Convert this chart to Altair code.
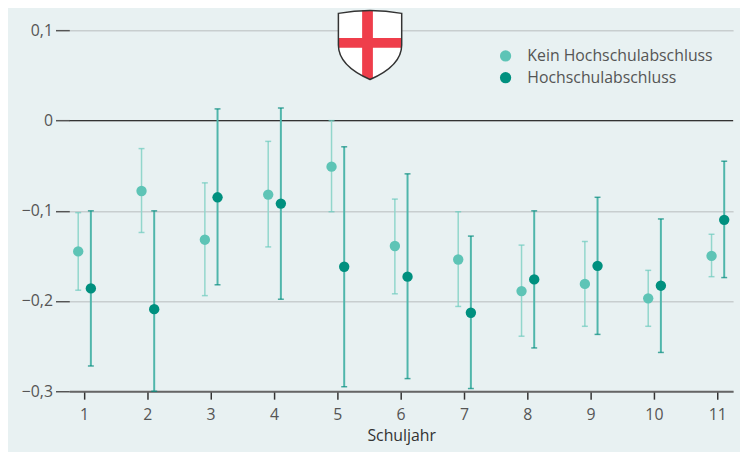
import altair as alt
import pandas as pd

jahre = [1, 2, 3, 4, 5, 6, 7, 8, 9, 10, 11]
gruppen = ["Kein Hochschulabschluss", "Hochschulabschluss"]

kein_wert = [-0.145, -0.078, -0.132, -0.082, -0.051, -0.139, -0.154, -0.189, -0.181, -0.197, -0.150]
kein_oben = [-0.102, -0.031, -0.069, -0.023, 0.000, -0.087, -0.101, -0.138, -0.134, -0.166, -0.126]
kein_unten = [-0.188, -0.124, -0.194, -0.140, -0.101, -0.192, -0.206, -0.239, -0.228, -0.228, -0.173]

hoch_wert = [-0.186, -0.209, -0.085, -0.092, -0.162, -0.173, -0.213, -0.176, -0.161, -0.183, -0.110]
hoch_oben = [-0.100, -0.100, 0.013, 0.014, -0.029, -0.059, -0.128, -0.100, -0.085, -0.109, -0.045]
hoch_unten = [-0.272, -0.300, -0.182, -0.198, -0.295, -0.286, -0.297, -0.252, -0.237, -0.257, -0.174]

y_ticks = [-0.3, -0.2, -0.1, 0, 0.1]

rows = []
for i, j in enumerate(jahre):
    rows.append({"jahr": j, "gruppe": gruppen[0], "wert": kein_wert[i], "oben": kein_oben[i], "unten": kein_unten[i]})
    rows.append({"jahr": j, "gruppe": gruppen[1], "wert": hoch_wert[i], "oben": hoch_oben[i], "unten": hoch_unten[i]})
df = pd.DataFrame(rows)

FONT = "Open Sans"
LIGHT = "#5ec4b6"
DARK = "#00907f"

xscale = alt.Scale(domain=[0.77, 11.25], nice=False, zero=False)
yscale = alt.Scale(domain=[-0.3, 0.12], nice=False, zero=False)

base = alt.Chart(df).transform_calculate(
    xpos=f"datum.jahr + (datum.gruppe == '{gruppen[0]}' ? -0.09 : 0.11)"
)

x_enc = alt.X(
    "xpos:Q", scale=xscale, title="Schuljahr",
    axis=alt.Axis(values=jahre, format="d", grid=False, tickSize=8, tickWidth=1.5,
                  tickColor="#333", domainColor="#666", domainWidth=2,
                  labelFontSize=16, labelColor="#555", labelPadding=8, labelFont=FONT,
                  titleFontSize=16, titleFontWeight="normal", titleColor="#333",
                  titleFont=FONT, titlePadding=5),
)
y_axis = alt.Axis(values=y_ticks, title=None, domain=False, tickSize=14, tickWidth=1.5,
                  tickColor="#555", labelFontSize=16, labelColor="#555", labelFont=FONT,
                  labelPadding=3, gridColor="#c8cecf", gridWidth=1.5,
                  labelExpr="datum.value == 0 ? '0' : replace(replace(format(datum.value, '.1f'), '.', ','), /[-\u2212]/, '\u2212')")

layers = []

zero = alt.Chart(pd.DataFrame({"z": [0]})).mark_rule(color="#333", strokeWidth=1.5).encode(
    y=alt.Y("z:Q", scale=yscale, axis=y_axis)
)
layers.append(zero)

styles = {
    gruppen[0]: ("#92d6cc", "#6ccabd", 1.5),
    gruppen[1]: ("#4fb6ab", "#00897b", 2),
}
for g in gruppen:
    line_c, cap_c, w = styles[g]
    sub = base.transform_filter(alt.datum.gruppe == g)
    layers.append(sub.mark_rule(color=line_c, strokeWidth=w).encode(
        x=x_enc, y=alt.Y("oben:Q", scale=yscale), y2="unten:Q"))
    layers.append(sub.mark_tick(color=cap_c, thickness=1.5, size=6, orient="horizontal").encode(
        x="xpos:Q", y=alt.Y("oben:Q", scale=yscale)))
    layers.append(sub.mark_tick(color=cap_c, thickness=1.5, size=6, orient="horizontal").encode(
        x="xpos:Q", y=alt.Y("unten:Q", scale=yscale)))

points = base.mark_circle(size=110, opacity=1).encode(
    x="xpos:Q",
    y=alt.Y("wert:Q", scale=yscale),
    color=alt.Color("gruppe:N", scale=alt.Scale(domain=gruppen, range=[LIGHT, DARK]),
                    legend=alt.Legend(title=None, orient="none", legendX=433, legendY=36,
                                      symbolType="circle", symbolSize=130, labelFontSize=16,
                                      labelFont=FONT, labelColor="#555",
                                      labelOffset=14, labelLimit=0,
                                      rowPadding=6, symbolStrokeWidth=0)),
)
layers.append(points)

# Freiburg coat of arms (decoration)
shield_path = "M -1 -1 Q 0 -1.18 1 -1 L 1 0 C 1 0.5 0.55 0.85 0 1.09 C -0.55 0.85 -1 0.5 -1 0 Z"
cross_path = ("M -0.25 -1.1 L 0.09 -1.1 L 0.09 -0.22 L 1 -0.22 L 1 0.09 L 0.09 0.09 "
              "L 0.09 1.04 L 0 1.09 L -0.25 0.96 L -0.25 0.09 L -1 0.09 L -1 -0.22 L -0.25 -0.22 Z")
one = pd.DataFrame({"a": [0]})
sx, sy, ssize = 304, 33, 4096
layers.append(alt.Chart(one).mark_point(shape=shield_path, filled=True, fill="white", stroke="white",
                                        strokeWidth=0, opacity=1, size=ssize).encode(
    x=alt.value(sx), y=alt.value(sy)))
layers.append(alt.Chart(one).mark_point(shape=cross_path, filled=True, fill="#ef3e4b", strokeWidth=0,
                                        opacity=1, size=ssize).encode(
    x=alt.value(sx), y=alt.value(sy)))
layers.append(alt.Chart(one).mark_point(shape=shield_path, filled=False, stroke="#333", strokeWidth=1.5,
                                        opacity=1, size=ssize).encode(
    x=alt.value(sx), y=alt.value(sy)))

chart = alt.layer(*layers).properties(
    width=671, height=383,
    autosize=alt.AutoSizeParams(type="none"),
    padding={"left": 62, "top": 2, "right": 7, "bottom": 59},
    background="#e8f1f2",
).configure_view(stroke=None).configure_axis(labelFont=FONT, titleFont=FONT)

chart.save("out.html", embed_options={"renderer": "svg", "actions": False})
